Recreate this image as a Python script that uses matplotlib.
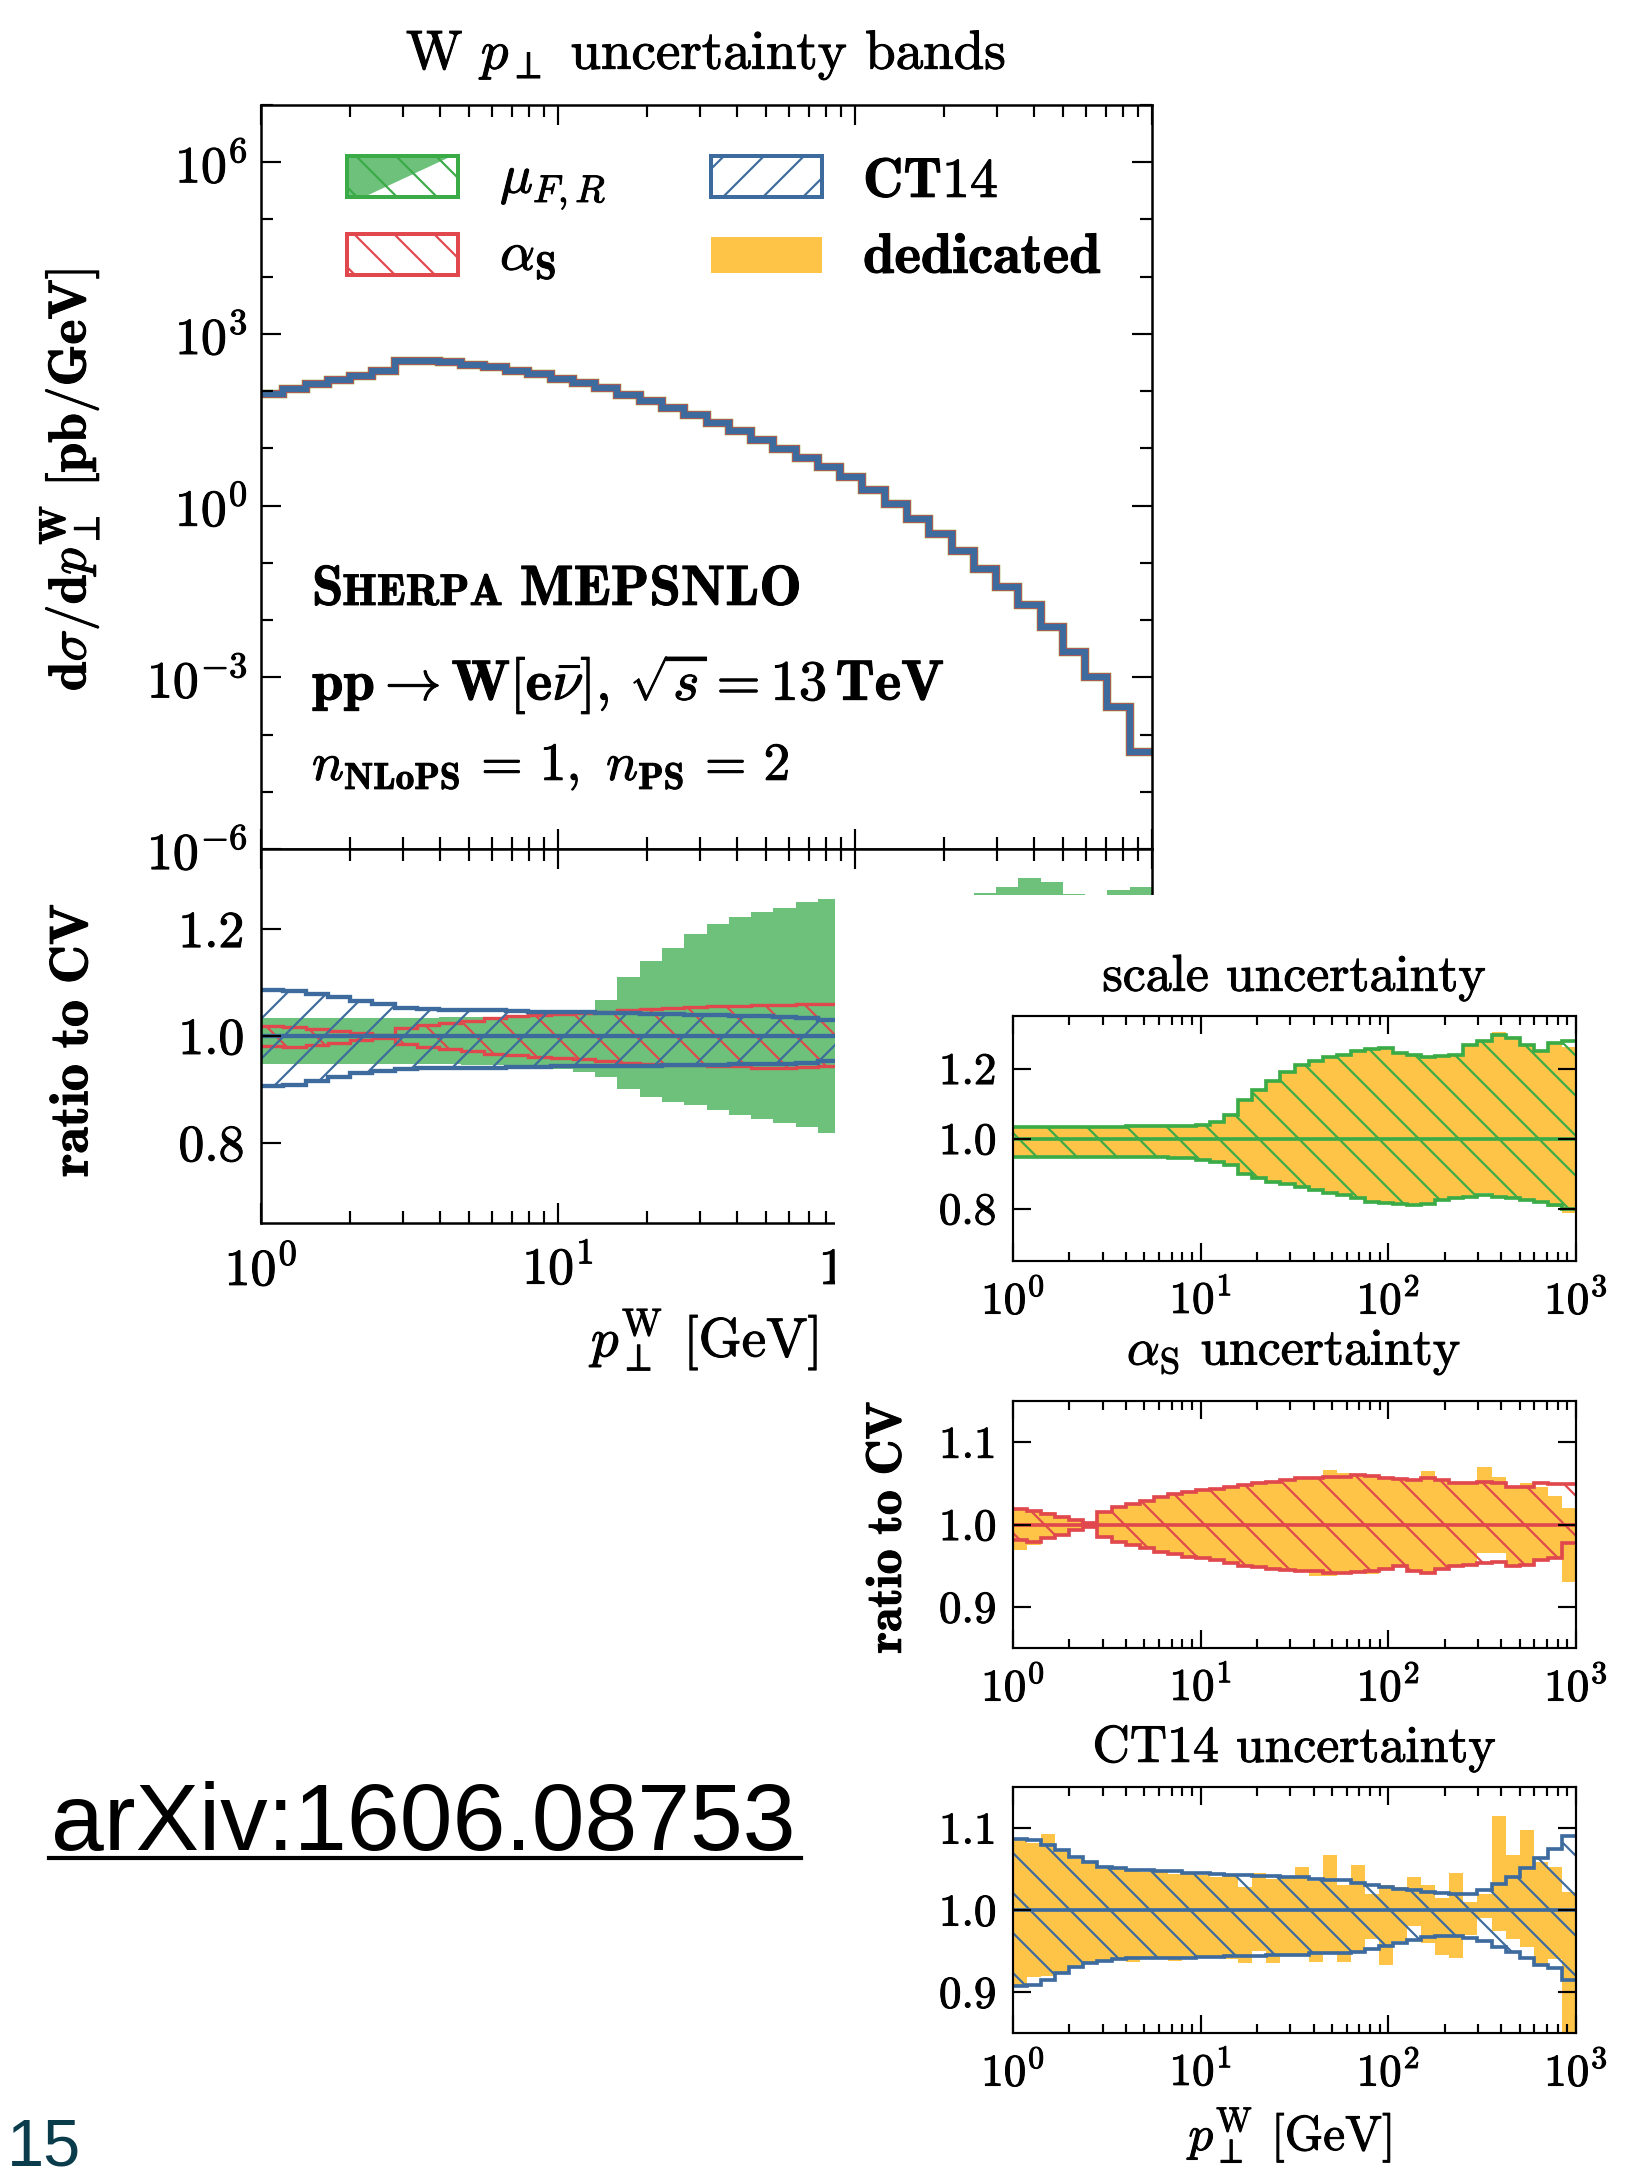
import numpy as np
import matplotlib
matplotlib.use('Agg')
import matplotlib.pyplot as plt
import matplotlib.patheffects as pe
from matplotlib.text import Text
from matplotlib.patches import Rectangle, Polygon
from matplotlib.lines import Line2D
from matplotlib.ticker import FixedLocator, NullFormatter, LogFormatterSciNotation, FormatStrFormatter

plt.rcParams['font.family'] = 'serif'
plt.rcParams['font.serif'] = ['cmr10']
plt.rcParams['mathtext.fontset'] = 'cm'
plt.rcParams['axes.formatter.use_mathtext'] = True
plt.rcParams['hatch.linewidth'] = 1.3

W, H, DPI = 1639, 2176, 120

# 40 log bins from 1 to 1000 GeV
edges = np.logspace(0, 3, 41)

# central value dsigma/dpT [pb/GeV]
spectrum = [89, 110, 132, 155, 182, 224, 331, 331, 320, 288,
            260, 229, 200, 166, 141, 115, 87, 68, 51, 38,
            27.5, 20, 14.1, 9.8, 6.8, 4.7, 3.2, 1.9, 1.07, 0.59,
            0.32, 0.16, 0.079, 0.038, 0.018, 0.0076, 0.0028, 0.0010, 3.0e-4, 5.0e-5]

# scale (mu_F,R) variation, ratio to CV
scale_hi = [1.033, 1.033, 1.033, 1.034, 1.034, 1.034, 1.034, 1.034, 1.035, 1.035,
            1.036, 1.036, 1.037, 1.040, 1.048, 1.068, 1.110, 1.140, 1.165, 1.190,
            1.210, 1.222, 1.232, 1.240, 1.250, 1.256, 1.258, 1.245, 1.238, 1.234,
            1.236, 1.240, 1.268, 1.278, 1.295, 1.288, 1.266, 1.250, 1.274, 1.278]
scale_lo = [0.948, 0.948, 0.948, 0.948, 0.948, 0.948, 0.948, 0.947, 0.947, 0.946,
            0.946, 0.945, 0.944, 0.938, 0.933, 0.924, 0.900, 0.886, 0.876, 0.870,
            0.862, 0.852, 0.845, 0.838, 0.829, 0.819, 0.816, 0.814, 0.810, 0.814,
            0.824, 0.829, 0.833, 0.838, 0.833, 0.829, 0.824, 0.819, 0.810, 0.800]
scale_ded_hi = [1.036, 1.033, 1.033, 1.034, 1.034, 1.034, 1.034, 1.034, 1.035, 1.035,
                1.036, 1.036, 1.037, 1.040, 1.048, 1.068, 1.110, 1.140, 1.165, 1.190,
                1.210, 1.222, 1.232, 1.240, 1.250, 1.256, 1.258, 1.245, 1.238, 1.234,
                1.236, 1.240, 1.268, 1.278, 1.305, 1.288, 1.266, 1.250, 1.274, 1.262]
scale_ded_lo = [0.948, 0.948, 0.948, 0.948, 0.948, 0.948, 0.948, 0.947, 0.947, 0.946,
                0.946, 0.945, 0.944, 0.938, 0.933, 0.924, 0.900, 0.886, 0.876, 0.870,
                0.862, 0.852, 0.845, 0.838, 0.829, 0.819, 0.816, 0.814, 0.810, 0.814,
                0.824, 0.829, 0.833, 0.845, 0.833, 0.829, 0.824, 0.819, 0.805, 0.786]

# alpha_s variation
as_hi = [1.019, 1.017, 1.013, 1.009, 1.005, 1.002, 1.015, 1.021, 1.025, 1.029,
         1.033, 1.037, 1.040, 1.042, 1.043, 1.045, 1.048, 1.050, 1.052, 1.054,
         1.056, 1.057, 1.058, 1.058, 1.060, 1.059, 1.057, 1.055, 1.054, 1.057,
         1.054, 1.050, 1.051, 1.052, 1.050, 1.046, 1.046, 1.050, 1.049, 1.049]
as_lo = [0.981, 0.979, 0.983, 0.987, 0.993, 0.997, 0.985, 0.979, 0.975, 0.971,
         0.967, 0.964, 0.961, 0.959, 0.957, 0.953, 0.949, 0.948, 0.946, 0.945,
         0.944, 0.943, 0.941, 0.941, 0.942, 0.944, 0.946, 0.949, 0.943, 0.941,
         0.946, 0.949, 0.951, 0.953, 0.955, 0.949, 0.951, 0.957, 0.959, 0.977]
as_ded_hi = [1.020, 1.017, 1.015, 1.009, 1.005, 1.002, 1.015, 1.021, 1.025, 1.029,
             1.033, 1.037, 1.040, 1.042, 1.043, 1.045, 1.048, 1.050, 1.052, 1.054,
             1.056, 1.057, 1.066, 1.062, 1.060, 1.059, 1.057, 1.055, 1.054, 1.065,
             1.054, 1.050, 1.051, 1.070, 1.058, 1.046, 1.050, 1.045, 1.035, 1.020]
as_ded_lo = [0.969, 0.975, 0.983, 0.987, 0.993, 0.997, 0.985, 0.979, 0.975, 0.971,
             0.967, 0.964, 0.961, 0.959, 0.957, 0.953, 0.949, 0.948, 0.946, 0.945,
             0.944, 0.937, 0.938, 0.941, 0.942, 0.940, 0.946, 0.949, 0.943, 0.941,
             0.946, 0.949, 0.951, 0.965, 0.965, 0.949, 0.951, 0.957, 0.960, 0.930]

# CT14 PDF variation
ct_hi = [1.087, 1.085, 1.079, 1.073, 1.065, 1.059, 1.053, 1.051, 1.049, 1.049,
         1.048, 1.047, 1.045, 1.045, 1.044, 1.043, 1.043, 1.042, 1.041, 1.040,
         1.040, 1.038, 1.037, 1.036, 1.033, 1.030, 1.028, 1.026, 1.024, 1.022,
         1.021, 1.020, 1.020, 1.024, 1.032, 1.040, 1.051, 1.063, 1.075, 1.090]
ct_lo = [0.907, 0.909, 0.915, 0.923, 0.931, 0.935, 0.938, 0.940, 0.941, 0.941,
         0.941, 0.942, 0.942, 0.943, 0.943, 0.944, 0.944, 0.944, 0.945, 0.945,
         0.945, 0.947, 0.947, 0.947, 0.949, 0.953, 0.956, 0.960, 0.964, 0.967,
         0.968, 0.968, 0.966, 0.962, 0.955, 0.949, 0.941, 0.933, 0.929, 0.915]
ct_ded_hi = [1.085, 1.082, 1.093, 1.072, 1.062, 1.058, 1.050, 1.050, 1.048, 1.046,
             1.048, 1.044, 1.046, 1.043, 1.040, 1.042, 1.028, 1.045, 1.038, 1.040,
             1.053, 1.035, 1.067, 1.030, 1.055, 1.020, 1.030, 1.028, 1.040, 1.030,
             1.015, 1.045, 1.010, 1.020, 1.115, 1.067, 1.097, 1.059, 1.053, 1.022]
ct_ded_lo = [0.907, 0.918, 0.920, 0.925, 0.932, 0.935, 0.937, 0.940, 0.936, 0.940,
             0.942, 0.938, 0.940, 0.943, 0.941, 0.940, 0.935, 0.950, 0.935, 0.946,
             0.946, 0.937, 0.948, 0.937, 0.950, 0.965, 0.933, 0.962, 0.980, 0.960,
             0.945, 0.941, 0.970, 0.990, 0.975, 0.965, 0.955, 0.933, 0.940, 0.840]

cv = np.ones(len(spectrum))

GREEN_FILL = '#6dc17b'
GREEN = '#3aab47'
RED = '#e0484d'
BLUE = '#3d6b9e'
YELLOW = '#fdc448'


def box(l, t, r, b):
    return [l / W, 1 - b / H, (r - l) / W, (b - t) / H]


def style(ax, fs, major, minor, lw=1.5):
    ax.set_xscale('log')
    ax.set_xlim(1, 1000)
    ax.tick_params(which='both', direction='in', top=True, right=True, width=1.3, labelsize=fs)
    ax.tick_params(which='major', length=major)
    ax.tick_params(which='minor', length=minor)
    for s in ax.spines.values():
        s.set_linewidth(lw)


def line(ax, vals, col, lw):
    ax.stairs(vals, edges, baseline=None, color=col, lw=lw)


fig = plt.figure(figsize=(W / DPI, H / DPI), dpi=DPI)

# ---- main spectrum panel
ax = fig.add_axes(box(261, 105, 1152, 849))
style(ax, 31, 12, 7)
ax.set_yscale('log')
ax.set_ylim(1e-6, 1e7)
ax.yaxis.set_major_locator(FixedLocator([1e-6, 1e-3, 1, 1e3, 1e6]))
ax.yaxis.set_minor_locator(FixedLocator(10.0 ** np.arange(-6, 8)))
ax.yaxis.set_major_formatter(LogFormatterSciNotation())
ax.yaxis.set_minor_formatter(NullFormatter())
ax.tick_params(axis='y', pad=8)
ax.tick_params(labelbottom=False)
sp = np.array(spectrum)
line(ax, sp, YELLOW, 5.0)
line(ax, sp, GREEN, 5.0)
line(ax, sp, RED, 4.6)
line(ax, sp, BLUE, 3.8)


# legend drawn by hand in axes fraction
def ax_x(px):
    return (px - 261) / 891


def ax_y(py):
    return (849 - py) / 744


tr = ax.transAxes
ax.add_patch(Polygon([[ax_x(347), ax_y(197)], [ax_x(364), ax_y(197)], [ax_x(452), ax_y(156)], [ax_x(347), ax_y(156)]],
                     closed=True, facecolor=GREEN_FILL, edgecolor='none', transform=tr))
ax.add_patch(Rectangle((ax_x(347), ax_y(197)), ax_x(458) - ax_x(347), ax_y(156) - ax_y(197),
                       fill=False, hatch='\\', edgecolor=GREEN, lw=2.4, transform=tr))
ax.add_patch(Rectangle((ax_x(347), ax_y(275)), ax_x(458) - ax_x(347), ax_y(234) - ax_y(275),
                       fill=False, hatch='\\', edgecolor=RED, lw=2.4, transform=tr))
ax.add_patch(Rectangle((ax_x(711), ax_y(197)), ax_x(822) - ax_x(711), ax_y(156) - ax_y(197),
                       fill=False, hatch='/', edgecolor=BLUE, lw=2.4, transform=tr))
ax.add_patch(Rectangle((ax_x(711), ax_y(273)), ax_x(822) - ax_x(711), ax_y(237) - ax_y(273),
                       facecolor=YELLOW, edgecolor='none', transform=tr))
ax.text(ax_x(500), ax_y(193), r'$\mu_{F,R}$', fontsize=33, va='baseline', transform=tr)
ax.text(ax_x(500), ax_y(270), r'$\alpha_\mathbf{S}$', fontsize=33, va='baseline', transform=tr)
ax.text(ax_x(863), ax_y(197), r'$\mathbf{CT14}$', fontsize=33.5, va='baseline', transform=tr)
ax.text(ax_x(863), ax_y(273), r'$\mathbf{dedicated}$', fontsize=34, va='baseline', transform=tr)

# generator / process labels
t1 = ax.text(ax_x(312), ax_y(605), r'$\mathbf{S}$', fontsize=34, va='baseline', transform=tr)
t2 = ax.annotate(r'$\mathbf{HERPA}$', xy=(1, ax_y(605)), xycoords=(t1, 'axes fraction'),
                 fontsize=26.5, va='baseline')
ax.annotate(r'$\mathbf{\ MEPSNLO}$', xy=(1, ax_y(605)), xycoords=(t2, 'axes fraction'),
            fontsize=34, va='baseline')
ax.text(ax_x(312), ax_y(700),
        r'$\mathbf{pp}\rightarrow\mathbf{W[e}\bar{\nu}\mathbf{]},\,\sqrt{s}=\mathbf{13}\,\mathbf{TeV}$',
        fontsize=34, va='baseline', transform=tr)
ax.text(ax_x(312), ax_y(780), r'$n_{\mathbf{NLoPS}}\mathbf{\,=\,1,}\ n_{\mathbf{PS}}\mathbf{\,=\,2}$',
        fontsize=32, va='baseline', transform=tr)

fig.text(706 / W, 1 - 55 / H, r'W $p_\perp$ uncertainty bands', fontsize=33, ha='center', va='center')
fig.text(70 / W, 1 - 480 / H, r'$\mathbf{d}\sigma/\mathbf{d}p_\perp^\mathbf{W}\ \mathbf{[pb/GeV]}$',
         fontsize=32, rotation=90, ha='center', va='center')

# ---- ratio panel (left)
axr = fig.add_axes(box(261, 849, 1152, 1223))
style(axr, 31, 12, 7)
axr.set_ylim(0.65, 1.35)
axr.set_yticks([0.8, 1.0, 1.2])
axr.yaxis.set_major_formatter(FormatStrFormatter('%.1f'))
axr.tick_params(axis='y', pad=10)
axr.tick_params(axis='x', pad=13)
axr.stairs(scale_hi, edges, baseline=scale_lo, fill=True, color=GREEN_FILL, lw=0)
axr.stairs(as_hi, edges, baseline=as_lo, fill=True, facecolor='none', edgecolor=RED, hatch='\\', lw=0)
line(axr, as_hi, RED, 2.0)
line(axr, as_lo, RED, 2.0)
axr.stairs(ct_hi, edges, baseline=ct_lo, fill=True, facecolor='none', edgecolor=BLUE, hatch='/', lw=0)
line(axr, ct_hi, BLUE, 2.6)
line(axr, ct_lo, BLUE, 2.6)
line(axr, cv, BLUE, 2.6)
fig.text(74 / W, 1 - 1040 / H, r'$\mathbf{ratio\ to\ CV}$', fontsize=32.5, rotation=90, ha='center', va='center')
fig.text(820 / W, 1 - 1340 / H, r'$p_\perp^\mathrm{W}$ [GeV]', fontsize=33, ha='right', va='center')

# white cover for the inset
fig.add_artist(Rectangle((835 / W, 0), 1 - 835 / W, 1 - 895 / H, transform=fig.transFigure,
                         facecolor='white', edgecolor='none', zorder=5))

# ---- three inset panels
panels = [
    ('scale uncertainty', (1016, 1261), (0.65, 1.35), [0.8, 1.0, 1.2], scale_lo, scale_hi,
     scale_ded_lo, scale_ded_hi, GREEN, 978),
    (r'$\alpha_\mathrm{S}$ uncertainty', (1401, 1648), (0.85, 1.15), [0.9, 1.0, 1.1], as_lo, as_hi,
     as_ded_lo, as_ded_hi, RED, 1353),
    ('CT14 uncertainty', (1787, 2033), (0.85, 1.15), [0.9, 1.0, 1.1], ct_lo, ct_hi,
     ct_ded_lo, ct_ded_hi, BLUE, 1749),
]
for title, (top, bot), ylim, yt, lo, hi, dlo, dhi, col, ty in panels:
    a = fig.add_axes(box(1013, top, 1576, bot))
    a.set_zorder(10)
    style(a, 27, 11, 5.5, lw=1.3)
    a.set_ylim(*ylim)
    a.set_yticks(yt)
    a.yaxis.set_major_formatter(FormatStrFormatter('%.1f'))
    a.tick_params(axis='y', pad=10)
    a.tick_params(axis='x', pad=11)
    a.stairs(dhi, edges, baseline=dlo, fill=True, color=YELLOW, lw=0)
    a.stairs(hi, edges, baseline=lo, fill=True, facecolor='none', edgecolor=col, hatch='\\', lw=0)
    line(a, hi, col, 2.2)
    line(a, lo, col, 2.2)
    line(a, cv, col, 2.2)
    fig.text(1294 / W, 1 - ty / H, title, fontsize=31, ha='center', va='center', zorder=11)

fig.text(888 / W, 1 - 1527 / H, r'$\mathbf{ratio\ to\ CV}$', fontsize=30, rotation=90,
         ha='center', va='center', zorder=11)
fig.text(1291 / W, 1 - 2136 / H, r'$p_\perp^\mathrm{W}$ [GeV]', fontsize=29.5, ha='center', va='center', zorder=11)

# slight stroke so the serif text looks like the scaled-up original
fig.canvas.draw()
for t in fig.findobj(Text):
    t.set_path_effects([pe.withStroke(linewidth=0.6, foreground=t.get_color())])

# slide annotations
fig.text(51 / W, 1 - 1850 / H, 'arXiv:1606.08753', fontsize=57, family='Liberation Sans',
         va='baseline', zorder=11)
fig.add_artist(Line2D([49 / W, 801 / W], [1 - 1858 / H] * 2, lw=2.5, color='black',
                      transform=fig.transFigure, zorder=11))
fig.text(7 / W, 1 - 2165 / H, '15', fontsize=40, family='Liberation Sans', color='#0b3c4c',
         va='baseline', zorder=11)

fig.savefig('out.png', dpi=DPI)
